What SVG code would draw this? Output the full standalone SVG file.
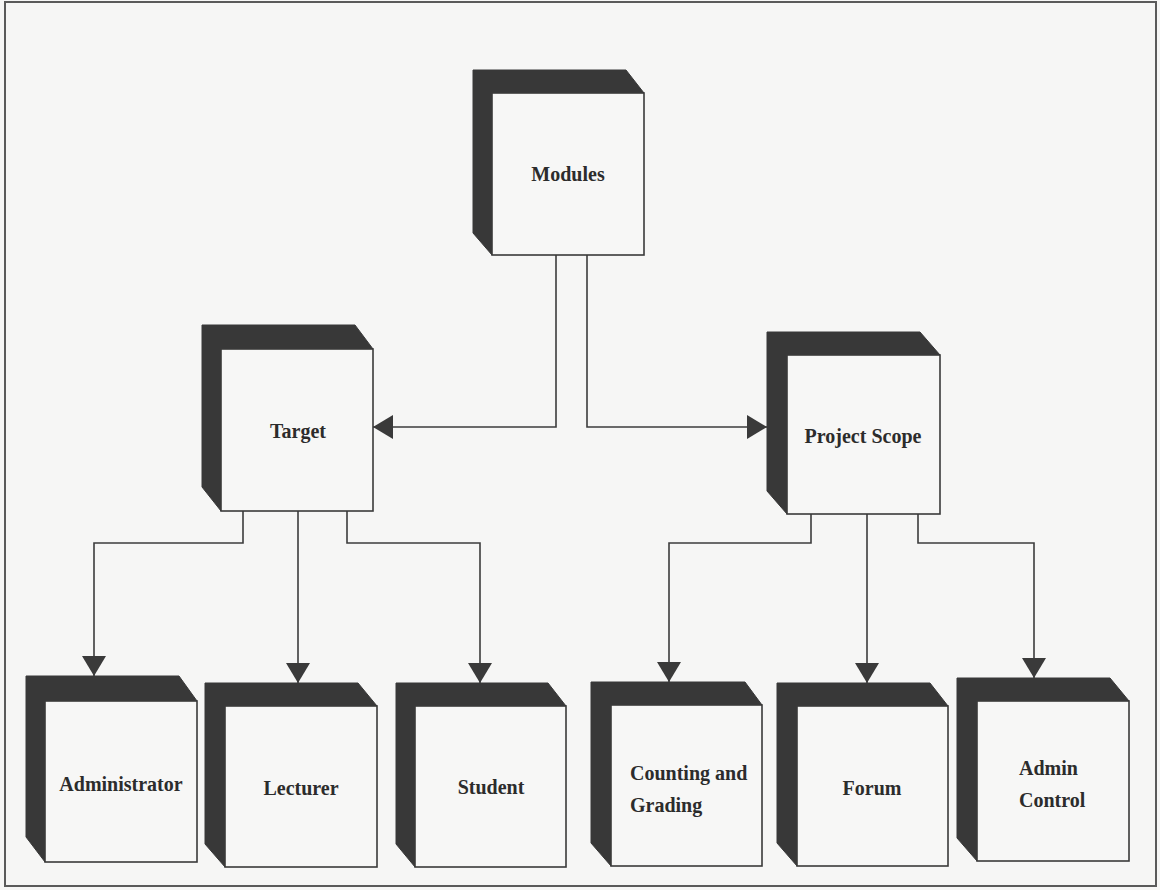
<svg xmlns="http://www.w3.org/2000/svg" width="1160" height="890" viewBox="0 0 1160 890">
<defs>
<style>
.bg{fill:#f6f6f5}
.frame{fill:none;stroke:#5a5a5a;stroke-width:2}
.side{fill:#383838;stroke:#383838;stroke-width:1}
.face{fill:#f7f7f6;stroke:#3a3a3a;stroke-width:1.6}
.lbl{font-family:"Liberation Serif","Times New Roman",serif;font-weight:bold;font-size:20px;fill:#2c2c2c}
.c{text-anchor:middle}
.conn{fill:none;stroke:#3c3c3c;stroke-width:1.6}
</style>
<marker id="arr" viewBox="0 0 20 24" refX="20" refY="12" markerWidth="20" markerHeight="24" markerUnits="userSpaceOnUse" orient="auto">
<path d="M0,0 L20,12 L0,24 z" fill="#3a3a3a"/>
</marker>
</defs>
<rect class="bg" x="0" y="0" width="1160" height="890"/>
<rect class="frame" x="5" y="2" width="1151" height="884"/>

<g id="connectors">
<path class="conn" d="M556,255 V427 H373" marker-end="url(#arr)"/>
<path class="conn" d="M587,255 V427 H767" marker-end="url(#arr)"/>
<path class="conn" d="M243,511 V543 H94 V676" marker-end="url(#arr)"/>
<path class="conn" d="M298,511 V683" marker-end="url(#arr)"/>
<path class="conn" d="M347,511 V543 H480 V683" marker-end="url(#arr)"/>
<path class="conn" d="M811,514 V543 H669 V682" marker-end="url(#arr)"/>
<path class="conn" d="M867,514 V683" marker-end="url(#arr)"/>
<path class="conn" d="M918,514 V543 H1034 V678" marker-end="url(#arr)"/>
</g>

<g id="modules">
<polygon class="side" points="473,70 626,70 644,93 492,93 492,255 473,233"/>
<rect class="face" x="492" y="93" width="152" height="162"/>
<text class="lbl c" x="568" y="181">Modules</text>
</g>

<g id="target">
<polygon class="side" points="202,325 355,325 373,349 221,349 221,511 202,487"/>
<rect class="face" x="221" y="349" width="152" height="162"/>
<text class="lbl c" x="298" y="438">Target</text>
</g>

<g id="project-scope">
<polygon class="side" points="767,332 920,332 940,355 787,355 787,514 767,491"/>
<rect class="face" x="787" y="355" width="153" height="159"/>
<text class="lbl c" x="863" y="443">Project Scope</text>
</g>

<g id="administrator">
<polygon class="side" points="26,676 179,676 197,701 45,701 45,862 26,837"/>
<rect class="face" x="45" y="701" width="152" height="161"/>
<text class="lbl c" x="121" y="791">Administrator</text>
</g>

<g id="lecturer">
<polygon class="side" points="205,683 358,683 377,706 225,706 225,867 205,844"/>
<rect class="face" x="225" y="706" width="152" height="161"/>
<text class="lbl c" x="301" y="795">Lecturer</text>
</g>

<g id="student">
<polygon class="side" points="396,683 548,683 566,706 415,706 415,867 396,844"/>
<rect class="face" x="415" y="706" width="151" height="161"/>
<text class="lbl c" x="491" y="794">Student</text>
</g>

<g id="counting-grading">
<polygon class="side" points="591,682 745,682 762,705 611,705 611,866 591,843"/>
<rect class="face" x="611" y="705" width="151" height="161"/>
<text class="lbl" x="630" y="780">Counting and</text>
<text class="lbl" x="630" y="812">Grading</text>
</g>

<g id="forum">
<polygon class="side" points="777,683 930,683 948,706 797,706 797,866 777,843"/>
<rect class="face" x="797" y="706" width="151" height="160"/>
<text class="lbl c" x="872" y="795">Forum</text>
</g>

<g id="admin-control">
<polygon class="side" points="957,678 1110,678 1129,701 977,701 977,861 957,838"/>
<rect class="face" x="977" y="701" width="152" height="160"/>
<text class="lbl" x="1019" y="775">Admin</text>
<text class="lbl" x="1019" y="807">Control</text>
</g>
</svg>
